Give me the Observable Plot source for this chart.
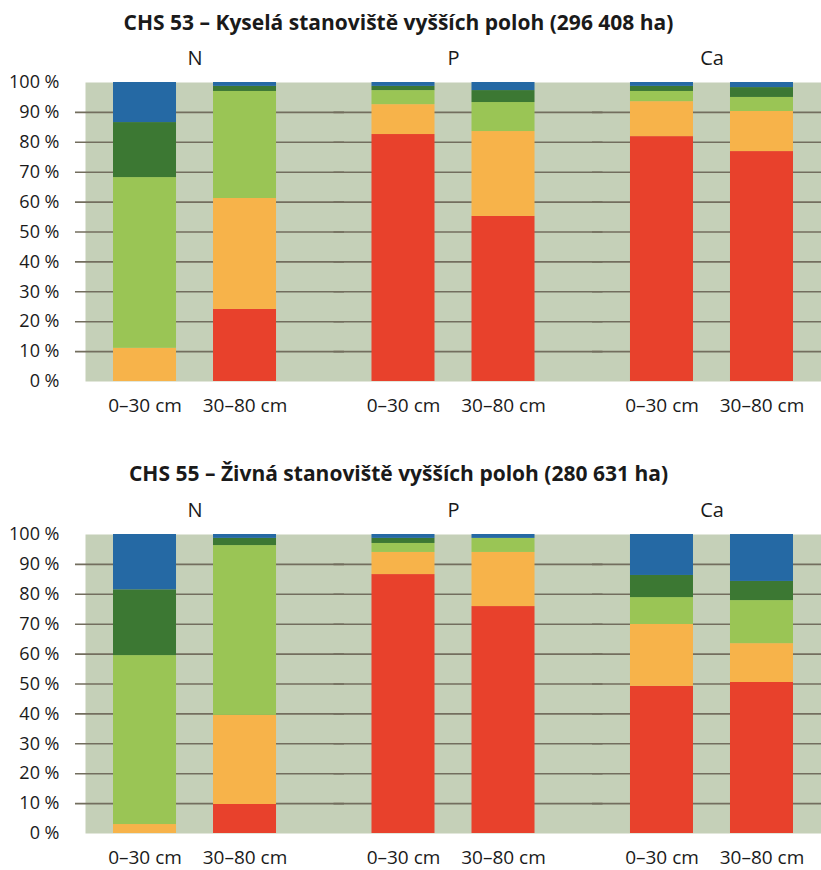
<!DOCTYPE html>
<html>
<head>
<meta charset="utf-8">
<script src="https://cdn.jsdelivr.net/npm/d3@7"></script>
<script src="https://cdn.jsdelivr.net/npm/@observablehq/plot@0.6"></script>
<style>
  html, body { margin: 0; padding: 0; background: #fff; overflow: hidden; }
  #wrap { position: relative; width: 821px; height: 870px; font-family: "Open Sans", "Noto Sans", sans-serif; color: #1a1a1a; }
  .title { position: absolute; left: 0; width: 797px; height: 44px; line-height: 44px; text-align: center; font-weight: 700; font-size: 21px; }
  .chart { position: absolute; left: 0; }
</style>
</head>
<body>
<div id="wrap">
  <div class="title" id="t1" style="top:0px"></div>
  <div class="chart" id="c1" style="top:40px"></div>
  <div class="title" id="t2" style="top:451px"></div>
  <div class="chart" id="c2" style="top:492px"></div>
</div>
<script>
// Categories
const nutrients = ["N", "P", "Ca"];
const depths = ["0–30 cm", "30–80 cm"];
const classes = ["velmi nízká", "nízká", "střední", "vysoká", "velmi vysoká"];
const classColors = ["#e8412c", "#f7b34a", "#9ac555", "#3c7833", "#2569a4"];
const yTicks = [0, 10, 20, 30, 40, 50, 60, 70, 80, 90, 100];
const gridTicks = [10, 20, 30, 40, 50, 60, 70, 80, 90];

const title53 = "CHS 53 – Kyselá stanoviště vyšších poloh (296 408 ha)";
const title55 = "CHS 55 – Živná stanoviště vyšších poloh (280 631 ha)";

// Bar order: N 0–30, N 30–80, P 0–30, P 30–80, Ca 0–30, Ca 30–80 (values in %)
const chs53_velmiNizka  = [0,    24.1, 82.6, 55.2, 81.9, 76.9];
const chs53_nizka       = [11.1, 37.1, 10.0, 28.4, 11.7, 13.4];
const chs53_stredni     = [57.1, 35.8, 4.7,  9.7,  3.4,  4.7];
const chs53_vysoka      = [18.4, 1.7,  1.4,  4.0,  1.7,  3.3];
const chs53_velmiVysoka = [13.4, 1.3,  1.3,  2.7,  1.3,  1.7];

const chs55_velmiNizka  = [0,    9.7,  86.6, 75.9, 49.2, 50.5];
const chs55_nizka       = [3.0,  29.8, 7.4,  18.1, 20.7, 13.0];
const chs55_stredni     = [56.5, 56.8, 3.0,  4.7,  9.0,  14.4];
const chs55_vysoka      = [22.0, 2.4,  1.7,  0,    7.4,  6.4];
const chs55_velmiVysoka = [18.5, 1.3,  1.3,  1.3,  13.7, 15.7];

function buildRows(series) {
  const rows = [];
  nutrients.forEach((n, i) => depths.forEach((d, j) => {
    series.forEach((s, k) => rows.push({nutrient: n, depth: d, cls: classes[k], value: s[i * 2 + j]}));
  }));
  return rows;
}

function chart(rows) {
  return Plot.plot({
    width: 821,
    height: 378,
    marginLeft: 75,
    marginRight: 0,
    marginTop: 42,
    marginBottom: 37,
    style: {fontFamily: "'Open Sans', 'Noto Sans', sans-serif", fontSize: "18px", color: "#1a1a1a", background: "transparent", overflow: "hidden"},
    fx: {domain: nutrients, paddingInner: 0.1527, paddingOuter: 0.01934, align: 1, round: false, label: null},
    x: {domain: depths, paddingInner: 0.37, paddingOuter: 0.28, round: false, label: null},
    y: {domain: [0, 100], label: null},
    color: {domain: classes, range: classColors},
    marks: [
      Plot.frame({fill: "#c5d0b8", stroke: "none", facet: "super"}),
      // gridlines drawn per facet, stretched over the gaps between facets
      Plot.ruleY(gridTicks, {y: d => d, stroke: "#736e5e", strokeWidth: 1.6, insetLeft: -10, insetRight: -40}),
      Plot.barY(rows, {fx: "nutrient", x: "depth", y: "value", fill: "cls", order: null}),
      Plot.axisY({ticks: yTicks, tickFormat: d => d + " %", tickSize: 0, tickPadding: 26, fontSize: 18, label: null}),
      Plot.axisX({tickSize: 0, tickPadding: 17, fontSize: 19, label: null}),
      Plot.axisFx({anchor: "top", tickSize: 0, tickPadding: 18, fontSize: 20, label: null})
    ]
  });
}

document.getElementById("t1").textContent = title53;
document.getElementById("t2").textContent = title55;
document.getElementById("c1").append(chart(buildRows([chs53_velmiNizka, chs53_nizka, chs53_stredni, chs53_vysoka, chs53_velmiVysoka])));
document.getElementById("c2").append(chart(buildRows([chs55_velmiNizka, chs55_nizka, chs55_stredni, chs55_vysoka, chs55_velmiVysoka])));
</script>
</body>
</html>
